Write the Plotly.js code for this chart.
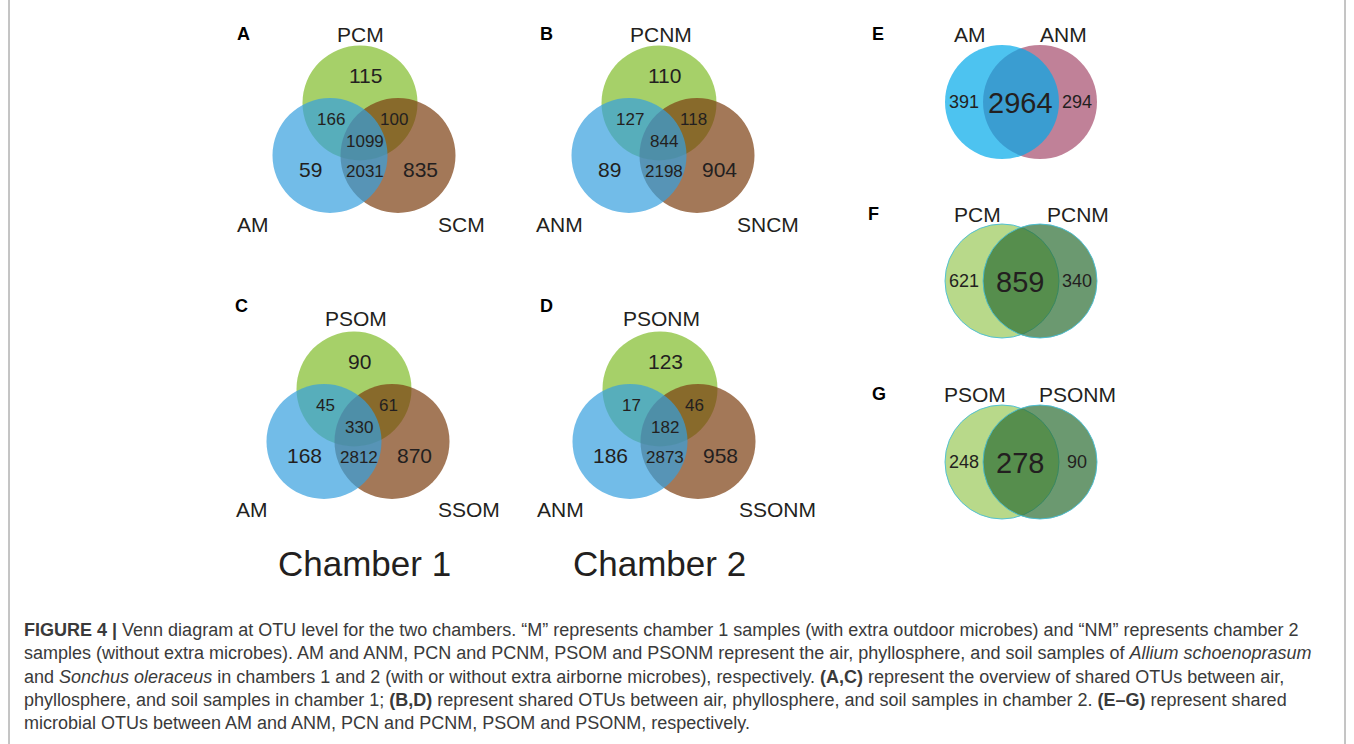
<!DOCTYPE html>
<html>
<head>
<meta charset="utf-8">
<script src="https://cdn.plot.ly/plotly-3.0.1.min.js"></script>
<style>html,body{margin:0;padding:0;background:#fff;}#chart{width:1354px;height:744px;}</style>
</head>
<body>
<div id="chart"></div>
<script>
// ---------- DATA ----------
// three-set Venn panels: sets = [top, left, right]
// counts = [top only, left only, right only, top∩left, top∩right, left∩right, all three]
const panelLetters3 = ['A', 'B', 'C', 'D'];
const setsA = ['PCM', 'AM', 'SCM'];
const countsA = [115, 59, 835, 166, 100, 2031, 1099];
const setsB = ['PCNM', 'ANM', 'SNCM'];
const countsB = [110, 89, 904, 127, 118, 2198, 844];
const setsC = ['PSOM', 'AM', 'SSOM'];
const countsC = [90, 168, 870, 45, 61, 2812, 330];
const setsD = ['PSONM', 'ANM', 'SSONM'];
const countsD = [123, 186, 958, 17, 46, 2873, 182];
const chamberLabels = ['Chamber 1', 'Chamber 2'];

// two-set Venn panels: counts = [left only, shared, right only]
const panelLetters2 = ['E', 'F', 'G'];
const setsE = ['AM', 'ANM'];
const countsE = [391, 2964, 294];
const setsF = ['PCM', 'PCNM'];
const countsF = [621, 859, 340];
const setsG = ['PSOM', 'PSONM'];
const countsG = [248, 278, 90];

const captionLines = [
  '<b>FIGURE 4 |</b> Venn diagram at OTU level for the two chambers. \u201cM\u201d represents chamber 1 samples (with extra outdoor microbes) and \u201cNM\u201d represents chamber 2',
  'samples (without extra microbes). AM and ANM, PCN and PCNM, PSOM and PSONM represent the air, phyllosphere, and soil samples of <i>Allium schoenoprasum</i>',
  'and <i>Sonchus oleraceus</i> in chambers 1 and 2 (with or without extra airborne microbes), respectively. <b>(A,C)</b> represent the overview of shared OTUs between air,',
  'phyllosphere, and soil samples in chamber 1; <b>(B,D)</b> represent shared OTUs between air, phyllosphere, and soil samples in chamber 2. <b>(E\u2013G)</b> represent shared',
  'microbial OTUs between AM and ANM, PCN and PCNM, PSOM and PSONM, respectively.'
];

// ---------- LAYOUT / GEOMETRY ----------
const FONT = 'Liberation Sans, Arial, Helvetica, sans-serif';
const TXT = '#231f20';
const shapes = [];
const ann = [];

function txt(x, y, text, size, opts) {
  ann.push(Object.assign({
    x: x, y: y, xref: 'x', yref: 'y', text: text, showarrow: false,
    xanchor: 'center', yanchor: 'middle',
    font: {family: FONT, size: size, color: TXT}
  }, opts || {}));
}
function circ(cx, cy, r, fill, line) {
  shapes.push({type: 'circle', xref: 'x', yref: 'y', x0: cx - r, x1: cx + r, y0: cy - r, y1: cy + r,
    fillcolor: fill, line: line || {width: 0}, layer: 'above'});
}

// three-set geometry (green circle centre), label positions
const geo3 = [
  {cx: 360, cy: 103, letter: [243, 34], lt: [360, 34], ll: [253, 224], lr: [461, 224]},
  {cx: 659, cy: 103, letter: [546, 34], lt: [661, 34], ll: [559, 224], lr: [768, 224]},
  {cx: 354, cy: 389, letter: [241, 306], lt: [356, 318], ll: [252, 509], lr: [469, 509]},
  {cx: 660, cy: 389, letter: [546, 306], lt: [661, 318], ll: [560, 509], lr: [777, 509]}
];
const sets3 = [setsA, setsB, setsC, setsD];
const counts3 = [countsA, countsB, countsC, countsD];
const R3 = 57.5;
const off3 = [[5, -28, 21], [-50, 66, 21], [60, 66, 21], [-29, 16, 17], [34, 16, 17], [5, 68, 17], [5, 38, 17]];

geo3.forEach((g, i) => {
  const green = 'rgba(128,188,42,0.7)';
  const brown = 'rgba(124,62,17,0.7)';
  const blue = 'rgba(54,159,222,0.7)';
  circ(g.cx, g.cy, R3, green);
  circ(g.cx + 38, g.cy + 52.5, R3, brown);
  circ(g.cx - 30, g.cy + 52.5, R3, blue);
  txt(g.letter[0], g.letter[1], '<b>' + panelLetters3[i] + '</b>', 18, {font: {family: FONT, size: 18, color: '#000'}});
  txt(g.lt[0], g.lt[1], sets3[i][0], 21);
  txt(g.ll[0], g.ll[1], sets3[i][1], 21);
  txt(g.lr[0], g.lr[1], sets3[i][2], 21);
  counts3[i].forEach((v, k) => txt(g.cx + off3[k][0], g.cy + off3[k][1], String(v), off3[k][2]));
});
txt(364, 563, chamberLabels[0], 35);
txt(659, 563, chamberLabels[1], 35);

// two-set geometry
const geo2 = [
  {cy: 102, letter: [878, 34], ll: [970, 34], lr: [1063, 34],
   c1: 'rgba(1,169,234,0.7)', c2: 'rgba(165,76,108,0.7)', order: 'rl', line: {width: 0}},
  {cy: 281, letter: [873, 214], ll: [977, 214], lr: [1078, 214],
   c1: 'rgba(154,201,88,0.7)', c2: 'rgba(44,109,51,0.7)', order: 'lr', line: {width: 1, color: 'rgba(70,190,215,0.9)'}},
  {cy: 462, letter: [879, 394], ll: [975, 394], lr: [1077, 394],
   c1: 'rgba(154,201,88,0.7)', c2: 'rgba(44,109,51,0.7)', order: 'lr', line: {width: 1, color: 'rgba(70,190,215,0.9)'}}
];
const sets2 = [setsE, setsF, setsG];
const counts2 = [countsE, countsF, countsG];
const R2 = 57;
const cxL = 1002, cxR = 1040;
geo2.forEach((g, i) => {
  if (g.order === 'rl') { circ(cxR, g.cy, R2, g.c2, g.line); circ(cxL, g.cy, R2, g.c1, g.line); }
  else { circ(cxL, g.cy, R2, g.c1, g.line); circ(cxR, g.cy, R2, g.c2, g.line); }
  txt(g.letter[0], g.letter[1], '<b>' + panelLetters2[i] + '</b>', 18, {font: {family: FONT, size: 18, color: '#000'}});
  txt(g.ll[0], g.ll[1], sets2[i][0], 21);
  txt(g.lr[0], g.lr[1], sets2[i][1], 21);
  txt(964, g.cy, String(counts2[i][0]), 18);
  txt(1020, g.cy + 1, String(counts2[i][1]), 29);
  txt(cxR + 37, g.cy, String(counts2[i][2]), 18);
});

// caption
const capY = [630, 653, 677, 700, 723];
captionLines.forEach((t, i) => {
  ann.push({x: 22, y: capY[i], xref: 'x', yref: 'y', text: t, showarrow: false,
    xanchor: 'left', yanchor: 'middle',
    font: {family: FONT, size: 18, color: '#3a3a3a'}});
});

// frame lines
shapes.push({type: 'line', xref: 'x', yref: 'y', x0: 9, x1: 9, y0: -5, y1: 750, line: {color: '#8a8a8a', width: 1}, layer: 'below'});
shapes.push({type: 'line', xref: 'x', yref: 'y', x0: 1345, x1: 1345, y0: -5, y1: 750, line: {color: '#8a8a8a', width: 1}, layer: 'below'});

const layout = {
  width: 1354, height: 744,
  margin: {l: 0, r: 0, t: 0, b: 0, pad: 0},
  paper_bgcolor: '#fff', plot_bgcolor: '#fff',
  xaxis: {range: [0, 1354], visible: false, fixedrange: true},
  yaxis: {range: [744, 0], visible: false, fixedrange: true},
  showlegend: false,
  shapes: shapes,
  annotations: ann
};
Plotly.newPlot('chart', [{x: [0], y: [0], mode: 'markers', marker: {opacity: 0}, hoverinfo: 'skip'}], layout, {staticPlot: true});
</script>
</body>
</html>
